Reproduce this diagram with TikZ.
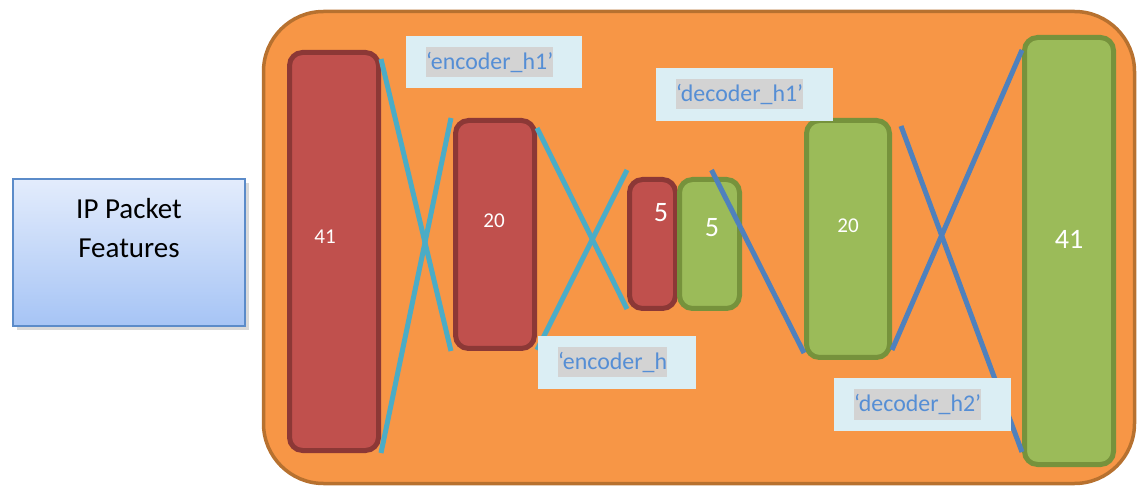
\documentclass[tikz,border=0pt]{standalone}
\usepackage{fontspec}
\setmainfont{Carlito}
\usetikzlibrary{shadows}
\newlength{\pix}\setlength{\pix}{0.02cm}
\definecolor{netfill}{HTML}{F79646}
\definecolor{netdraw}{HTML}{B7712F}
\definecolor{encfill}{HTML}{C0504D}
\definecolor{encdraw}{HTML}{8C3836}
\definecolor{decfill}{HTML}{9BBB59}
\definecolor{decdraw}{HTML}{76923C}
\definecolor{enccyan}{HTML}{4BACC6}
\definecolor{decblue}{HTML}{4F81BD}
\definecolor{namebg}{HTML}{DBEEF4}
\definecolor{namehl}{HTML}{D3D3D3}
\definecolor{nametxt}{HTML}{558ED5}
\definecolor{iptop}{HTML}{E3ECFC}
\definecolor{ipbot}{HTML}{A6C4F5}
\definecolor{ipdraw}{HTML}{5B8BC9}
\tikzset{
	net/.style={draw=netdraw, fill=netfill, line width=3.5\pix, rounded corners=60\pix},
	encbox/.style={draw=encdraw, fill=encfill, line width=5\pix, rounded corners=13\pix, inner sep=0pt},
	decbox/.style={draw=decdraw, fill=decfill, line width=5\pix, rounded corners=13\pix, inner sep=0pt},
	num/.style={text=white, font=\fontsize{12}{14}\selectfont, inner sep=0pt},
	bignum/.style={text=white, font=\fontsize{16}{19}\selectfont, inner sep=0pt},
	encline/.style={draw=enccyan, line width=5\pix},
	decline/.style={draw=decblue, line width=5\pix},
	namebox/.style={fill=namebg, inner sep=0pt},
	nametext/.style={fill=namehl, text=nametxt, font=\fontsize{13.6}{16}\selectfont, inner xsep=0pt, inner ysep=0pt, minimum height=30\pix, anchor=west},
	inbox/.style={draw=ipdraw, line width=2\pix, top color=iptop, bottom color=ipbot, inner sep=0pt, drop shadow={opacity=0.3, shadow xshift=2pt, shadow yshift=-2pt}},
}

\begin{document}
\begin{tikzpicture}[x=0.02cm, y=-0.02cm]
		%%%%% START %%%%%
		\useasboundingbox (0, 0) rectangle (1140, 486);
		
		\node[inbox, minimum width=232\pix, minimum height=147\pix] (ip) at (129, 252.5) {};
		\node[align=center, font=\fontsize{16.5}{22.7}\selectfont, inner sep=0pt] (iptext) at (129, 228) {IP Packet\\Features};
		
		\draw[net] (263.5, 11.5) rectangle (1134.5, 483.5);
		
		% encoder
		\node[encbox, minimum width=89\pix, minimum height=398\pix] (enc41) at (334, 251.5) {};
		\node[encbox, minimum width=79\pix, minimum height=228\pix] (enc20) at (495, 234.5) {};
		\node[encbox, minimum width=46\pix, minimum height=129\pix] (enc5) at (652.5, 244) {};
		\node[num] (enc41n) at (325, 237) {41};
		\node[num] (enc20n) at (494, 221) {20};
		\node[bignum] (enc5n) at (661, 213) {5};
		
		% decoder
		\node[decbox, minimum width=60\pix, minimum height=129\pix] (dec5) at (709.5, 244) {};
		\node[decbox, minimum width=83\pix, minimum height=237\pix] (dec20) at (848, 239) {};
		\node[decbox, minimum width=89\pix, minimum height=427\pix] (dec41) at (1069, 251) {};
		\node[bignum] (dec5n) at (712, 228) {5};
		\node[num] (dec20n) at (848, 226) {20};
		\node[bignum] (dec41n) at (1069, 239) {41};
		
		\draw[encline] ([yshift=-9\pix]enc41.north east) -- ([xshift=-2\pix]enc20.south west);
		\draw[encline] (enc41.south east) -- ([xshift=-2\pix]enc20.north west);
		\draw[encline] ([yshift=-10\pix]enc20.north east) -- ([yshift=2\pix]enc5.south west);
		\draw[encline] ([yshift=1\pix]enc20.south east) -- ([yshift=7\pix]enc5.north west);
		
		\draw[decline] ([xshift=2\pix, yshift=7\pix]dec5.north) -- ([yshift=7\pix]dec20.south west);
		\draw[decline] ([xshift=9\pix, yshift=-8\pix]dec20.north east) -- ([yshift=15\pix]dec41.south west);
		\draw[decline] ([yshift=10\pix]dec20.south east) -- ([yshift=-15\pix]dec41.north west);
		
		% layer names
		\node[namebox, minimum width=176\pix, minimum height=52\pix] (h1box) at (494, 62) {};
		\node[nametext] (h1) at ([xshift=20\pix]h1box.west) {‘encoder\_h1’};
		\node[namebox, minimum width=177\pix, minimum height=53\pix] (dh1box) at (744.5, 94.5) {};
		\node[nametext] (dh1) at ([xshift=20\pix]dh1box.west) {‘decoder\_h1’};
		\node[namebox, minimum width=158\pix, minimum height=53\pix] (hbox) at (617, 362.5) {};
		\node[nametext] (h) at ([xshift=20\pix]hbox.west) {‘encoder\_h};
		\node[namebox, minimum width=177\pix, minimum height=53\pix] (dh2box) at (922.5, 404.5) {};
		\node[nametext] (dh2) at ([xshift=20\pix]dh2box.west) {‘decoder\_h2’};
		%%%%% END %%%%%
	\end{tikzpicture}
\end{document}
